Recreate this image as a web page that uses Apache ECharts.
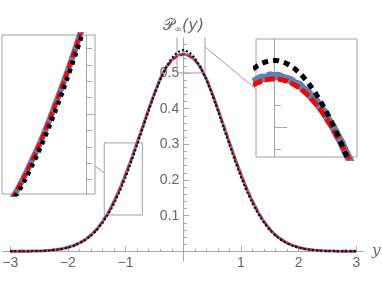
<!DOCTYPE html>
<html><head><meta charset="utf-8">
<script src="https://cdn.jsdelivr.net/npm/echarts@6/dist/echarts.min.js"></script>
<style>html,body{margin:0;padding:0;background:#fff}#c{width:382px;height:286px}</style>
</head><body><div id="c"></div>
<script>
// ---- data ----
const xMain = [-3,-2.9,-2.8,-2.7,-2.6,-2.5,-2.4,-2.3,-2.2,-2.1,-2,-1.9,-1.8,-1.7,-1.6,-1.5,-1.4,-1.3,-1.2,-1.1,-1,-0.9,-0.8,-0.7,-0.6,-0.5,-0.4,-0.3,-0.2,-0.1,0,0.1,0.2,0.3,0.4,0.5,0.6,0.7,0.8,0.9,1,1.1,1.2,1.3,1.4,1.5,1.6,1.7,1.8,1.9,2,2.1,2.2,2.3,2.4,2.5,2.6,2.7,2.8,2.9,3];
const blackMain = [0.0001,0.0001,0.0002,0.0004,0.0007,0.0011,0.0018,0.0028,0.0045,0.0069,0.0103,0.0152,0.0220,0.0313,0.0436,0.0595,0.0795,0.1041,0.1337,0.1683,0.2076,0.2510,0.2975,0.3456,0.3936,0.4394,0.4808,0.5157,0.5421,0.5586,0.5642,0.5586,0.5421,0.5157,0.4808,0.4394,0.3936,0.3456,0.2975,0.2510,0.2076,0.1683,0.1337,0.1041,0.0795,0.0595,0.0436,0.0313,0.0220,0.0152,0.0103,0.0069,0.0045,0.0028,0.0018,0.0011,0.0007,0.0004,0.0002,0.0001,0.0001];
const redMain = [0.0001,0.0001,0.0002,0.0004,0.0007,0.0012,0.0019,0.0031,0.0049,0.0075,0.0112,0.0165,0.0235,0.0330,0.0455,0.0620,0.0830,0.1090,0.1400,0.1755,0.2155,0.2590,0.3050,0.3520,0.3985,0.4430,0.4835,0.5142,0.5352,0.5478,0.5520,0.5478,0.5352,0.5142,0.4835,0.4430,0.3985,0.3520,0.3050,0.2590,0.2155,0.1755,0.1400,0.1090,0.0830,0.0620,0.0455,0.0330,0.0235,0.0165,0.0112,0.0075,0.0049,0.0031,0.0019,0.0012,0.0007,0.0004,0.0002,0.0001,0.0001];
const blueMain = [0.0001,0.0001,0.0002,0.0004,0.0008,0.0012,0.0020,0.0030,0.0050,0.0074,0.0114,0.0163,0.0237,0.0328,0.0458,0.0618,0.0833,0.1087,0.1404,0.1752,0.2159,0.2586,0.3055,0.3516,0.3990,0.4433,0.4840,0.5148,0.5368,0.5492,0.5538,0.5490,0.5370,0.5148,0.4838,0.4428,0.3990,0.3517,0.3054,0.2588,0.2158,0.1752,0.1403,0.1088,0.0832,0.0622,0.0453,0.0332,0.0233,0.0166,0.0111,0.0076,0.0048,0.0031,0.0020,0.0011,0.0007,0.0004,0.0002,0.0001,0.0001];

const xPeak = [-0.1,-0.08,-0.06,-0.04,-0.02,0,0.02,0.04,0.06,0.08,0.1,0.12,0.14,0.16,0.18,0.2,0.22,0.24,0.26,0.28,0.3,0.32,0.34,0.36,0.38,0.4];
const blackPeak = [0.5586,0.5606,0.5622,0.5633,0.5640,0.5642,0.5640,0.5633,0.5622,0.5606,0.5586,0.5561,0.5532,0.5499,0.5462,0.5421,0.5375,0.5326,0.5273,0.5217,0.5157,0.5093,0.5026,0.4956,0.4883,0.4808];
const redPeak = [0.5478,0.5493,0.5505,0.5513,0.5518,0.5520,0.5518,0.5513,0.5505,0.5493,0.5478,0.5460,0.5438,0.5413,0.5384,0.5352,0.5317,0.5278,0.5236,0.5191,0.5142,0.5090,0.5035,0.4976,0.4913,0.4840];
const bluePeak = [0.5500,0.5512,0.5530,0.5522,0.5545,0.5538,0.5541,0.5528,0.5520,0.5512,0.5490,0.5482,0.5452,0.5438,0.5395,0.5378,0.5330,0.5300,0.5245,0.5205,0.5148,0.5100,0.5038,0.4985,0.4912,0.4850];

// axis ticks / labels
const xMajor = [-3,-2,-1,1,2,3];
const xMinor = [-2.8,-2.6,-2.4,-2.2,-1.8,-1.6,-1.4,-1.2,-0.8,-0.6,-0.4,-0.2,0.2,0.4,0.6,0.8,1.2,1.4,1.6,1.8,2.2,2.4,2.6,2.8];
const yMajor = [0.1,0.2,0.3,0.4,0.5];
const yMinor = [0.02,0.04,0.06,0.08,0.12,0.14,0.16,0.18,0.22,0.24,0.26,0.28,0.32,0.34,0.36,0.38,0.42,0.44,0.46,0.48,0.52,0.54,0.56,0.58];
const leftInsetMajor = [0.2];
const leftInsetMinor = [0.12,0.14,0.16,0.18,0.22,0.24,0.26,0.28];
const rightInsetMajor = [0.52];
const rightInsetMinor = [0.5053,0.5346];

// axis ranges and zoom regions (data coordinates)
const mainRange = {x:[-3.13,3.13], y:[-0.027,0.598]};
const zoomLeft = {x:[-1.37,-0.71], y:[0.102,0.304]};
const zoomPeak = {x:[-0.109,0.376], y:[0.500,0.606]};
const insetLeftRange = {x:[-1.423,-0.702], y:[0.1024,0.2963]};
const insetPeakRange = {x:[-0.086,0.396], y:[0.5000,0.5785]};

// ---- layout ----
const W = 382, H = 286;
const G0 = {left:2.7, right:18.1, top:38, bottom:25};
const G1 = {left:2, top:35, width:93, height:159};
const G2 = {left:256, top:39, width:101, height:118};
const g0w = W - G0.left - G0.right, g0h = H - G0.top - G0.bottom;
// where the zero lines fall inside the main grid (via the axis scales)
const zeroXOffset = (0 - mainRange.x[0]) / (mainRange.x[1] - mainRange.x[0]) * g0w;
const zeroYOffset = (0 - mainRange.y[0]) / (mainRange.y[1] - mainRange.y[0]) * g0h;
const peakZeroOffset = (0 - insetPeakRange.x[0]) / (insetPeakRange.x[1] - insetPeakRange.x[0]) * G2.width;

const chart = echarts.init(document.getElementById('c'), null, {renderer:'canvas'});
const AX = '#a8a8a8', LBL = '#666', BOX = '#a0a0a0';
const FONT = 'Liberation Sans, Arial, sans-serif';
const BLUE = '#5E81B5', RED = '#FF0000', BLACK = '#000000';
const pairs = (xs, ys) => xs.map((x,i)=>[x, ys[i]]);
const boxPath = z => [[z.x[0],z.y[0]],[z.x[1],z.y[0]],[z.x[1],z.y[1]],[z.x[0],z.y[1]],[z.x[0],z.y[0]]];
const fmt = v => v < 0 ? '\u2212' + (-v) : String(v);

function hiddenX(grid, r){
  return {type:'value', gridIndex:grid, min:r[0], max:r[1], show:false, axisLine:{onZero:false}};
}
function line(name, xi, yi, data, color, width, type, z, smooth){
  return {name, type:'line', xAxisIndex:xi, yAxisIndex:yi, data, symbol:'none', smooth:!!smooth,
    lineStyle:{color, width, type, cap:'butt'}, z, silent:true, clip:true};
}

const option = {
  animation:false,
  backgroundColor:'#fff',
  grid:[
    Object.assign({outerBoundsMode:'none', containLabel:false}, G0),
    Object.assign({outerBoundsMode:'none', containLabel:false, show:true, borderColor:BOX, borderWidth:1, backgroundColor:'#fff'}, G1),
    Object.assign({outerBoundsMode:'none', containLabel:false, show:true, borderColor:BOX, borderWidth:1, backgroundColor:'#fff'}, G2)
  ],
  xAxis:[
    {type:'value', gridIndex:0, min:mainRange.x[0], max:mainRange.x[1], splitLine:{show:false},
      position:'bottom', offset:-zeroYOffset,
      axisLine:{onZero:false, lineStyle:{color:AX, width:1}},
      axisTick:{inside:true, length:5, customValues:xMajor, lineStyle:{color:AX}},
      axisLabel:{customValues:xMajor, formatter:fmt, color:LBL, fontFamily:FONT, fontSize:14, margin:5},
      name:'y', nameLocation:'end', nameGap:8,
      nameTextStyle:{color:LBL, fontFamily:'DejaVu Serif, serif', fontStyle:'italic', fontSize:15, verticalAlign:'middle', padding:[0,0,5,0]}},
    hiddenX(1, insetLeftRange.x),
    hiddenX(2, insetPeakRange.x),
    {type:'value', gridIndex:0, min:mainRange.x[0], max:mainRange.x[1], splitLine:{show:false},
      position:'bottom', offset:-zeroYOffset,
      axisLine:{show:false, onZero:false},
      axisTick:{inside:true, length:2.5, customValues:xMinor, lineStyle:{color:AX}},
      axisLabel:{show:false}}
  ],
  yAxis:[
    {type:'value', gridIndex:0, min:mainRange.y[0], max:mainRange.y[1], splitLine:{show:false},
      position:'left', offset:-zeroXOffset,
      axisLine:{onZero:false, lineStyle:{color:AX, width:1}},
      axisTick:{inside:true, length:6, customValues:yMajor, lineStyle:{color:AX}},
      axisLabel:{customValues:yMajor, color:LBL, fontFamily:FONT, fontSize:14, margin:4},
      name:'{p|\u{1D4AB}}{s|\u221E}{n|(y)}', nameLocation:'end', nameGap:4,
      nameTextStyle:{color:LBL, rich:{
        p:{fontFamily:'DejaVu Sans, Noto Sans, serif', fontSize:16, color:LBL},
        s:{fontFamily:'DejaVu Sans', fontSize:9, color:LBL, verticalAlign:'bottom', padding:[6,0,0,0]},
        n:{fontFamily:'DejaVu Sans', fontStyle:'italic', fontSize:16, color:LBL}}}},
    {type:'value', gridIndex:0, min:mainRange.y[0], max:mainRange.y[1], splitLine:{show:false},
      position:'left', offset:-zeroXOffset,
      axisLine:{show:false, onZero:false},
      axisTick:{inside:true, length:3.5, customValues:yMinor, lineStyle:{color:AX}},
      axisLabel:{show:false}},
    {type:'value', gridIndex:1, min:insetLeftRange.y[0], max:insetLeftRange.y[1], position:'right', offset:-9,
      splitLine:{show:false}, axisLine:{onZero:false, lineStyle:{color:AX}},
      axisTick:{inside:false, length:9, customValues:leftInsetMajor, lineStyle:{color:AX}},
      axisLabel:{show:false}},
    {type:'value', gridIndex:1, min:insetLeftRange.y[0], max:insetLeftRange.y[1], position:'right', offset:-9,
      splitLine:{show:false}, axisLine:{show:false, onZero:false},
      axisTick:{inside:false, length:6, customValues:leftInsetMinor, lineStyle:{color:AX}},
      axisLabel:{show:false}},
    {type:'value', gridIndex:2, min:insetPeakRange.y[0], max:insetPeakRange.y[1],
      position:'left', offset:-peakZeroOffset,
      splitLine:{show:false}, axisLine:{onZero:false, lineStyle:{color:AX}},
      axisTick:{inside:true, length:13, customValues:rightInsetMajor, lineStyle:{color:AX}},
      axisLabel:{show:false}},
    {type:'value', gridIndex:2, min:insetPeakRange.y[0], max:insetPeakRange.y[1],
      position:'left', offset:-peakZeroOffset,
      splitLine:{show:false}, axisLine:{show:false, onZero:false},
      axisTick:{inside:true, length:7, customValues:rightInsetMinor, lineStyle:{color:AX}},
      axisLabel:{show:false}}
  ],
  series:[
    line('box1',0,0,boxPath(zoomLeft),BOX,1,'solid',1),
    line('box2',0,0,boxPath(zoomPeak),BOX,1,'solid',1),
    line('blue',0,0,pairs(xMain,blueMain),BLUE,3,'solid',2),
    line('red',0,0,pairs(xMain,redMain),RED,2,[5,3],3),
    line('black',0,0,pairs(xMain,blackMain),BLACK,2,[2,2.2],4),
    line('blueL',1,2,pairs(xMain,blueMain),BLUE,6,'solid',2,true),
    line('redL',1,2,pairs(xMain,redMain),RED,4,[8,3],3,true),
    line('blackL',1,2,pairs(xMain,blackMain),BLACK,4.5,[4,4.5],4,true),
    line('blueR',2,4,pairs(xPeak,bluePeak),BLUE,8,'solid',2),
    line('redR',2,4,pairs(xPeak,redPeak),RED,5,[10,3],3),
    line('blackR',2,4,pairs(xPeak,blackPeak),BLACK,5,[6,5],4)
  ]
};
chart.setOption(option);

// connector lines between zoom boxes and insets
const pMain = v => chart.convertToPixel({xAxisIndex:0, yAxisIndex:0}, v);
const a1 = chart.convertToPixel({xAxisIndex:1, yAxisIndex:2}, [insetLeftRange.x[1], 0.1365]);
const b1 = pMain([zoomLeft.x[0], 0.22]);
const a2 = pMain([zoomPeak.x[1], 0.573]);
const b2 = chart.convertToPixel({xAxisIndex:2, yAxisIndex:4}, [insetPeakRange.x[0], 0.5452]);
chart.setOption({graphic:[
  {type:'line', shape:{x1:a1[0], y1:a1[1], x2:b1[0], y2:b1[1]}, style:{stroke:BOX, lineWidth:1}, z:1},
  {type:'line', shape:{x1:a2[0], y1:a2[1], x2:b2[0], y2:b2[1]}, style:{stroke:BOX, lineWidth:1}, z:1}
]});
</script>
</body></html>
